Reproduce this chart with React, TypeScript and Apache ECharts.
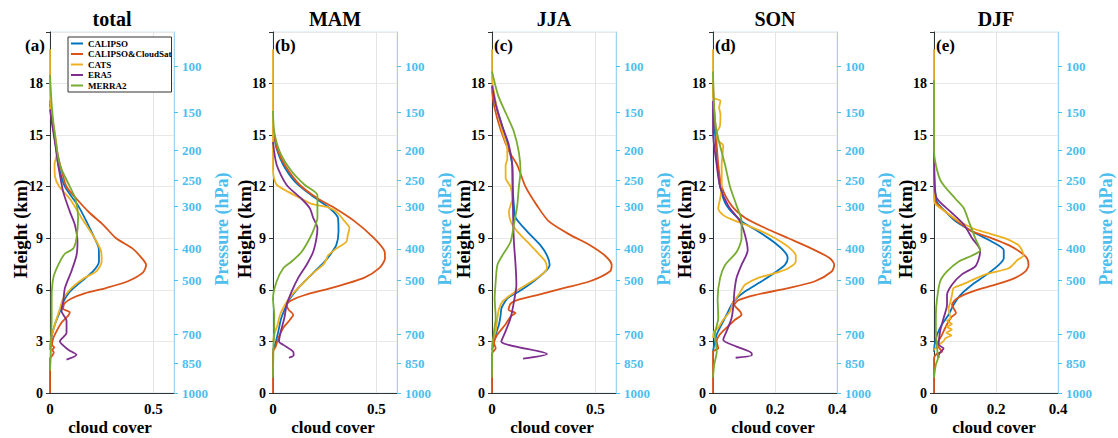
import React, { useEffect, useRef } from "react";
import * as echarts from "echarts";

// ---------- labels & categories ----------
const seriesNames = ["CALIPSO", "CALIPSO&CloudSat", "CATS", "ERA5", "MERRA2"];
const seriesColors = ["#0072BD", "#D95319", "#EDB120", "#7E2F8E", "#77AC30"];
const panelTitles = ["total", "MAM", "JJA", "SON", "DJF"];
const panelTags = ["(a)", "(b)", "(c)", "(d)", "(e)"];
const xMaxes = [0.6, 0.6, 0.6, 0.4, 0.4];
const xIntervals = [0.5, 0.5, 0.5, 0.2, 0.2];
const heightMax = 21;
const heightInterval = 3;
const pressureLevels = [100, 150, 200, 250, 300, 400, 500, 700, 850, 1000];
const pressureHeights = [18.98, 16.33, 14.1, 12.35, 10.84, 8.38, 6.57, 3.43, 1.73, 0];

// ---------- data: [cloud cover, height km] ----------
const totalCALIPSO = [[0, 2.5], [0.005, 3.0], [0.01, 3.4], [0.024, 4.0], [0.048, 4.75], [0.064, 5.3], [0.096, 5.9], [0.152, 6.5], [0.208, 7.07], [0.237, 7.65], [0.236, 8.4], [0.216, 9.0], [0.184, 9.8], [0.136, 10.9], [0.072, 12.0], [0.04, 13.26], [0.032, 14.0], [0.022, 15.0], [0.01, 16.0], [0, 17.0]];
const totalCloudSat = [[0, 0], [0, 2.0], [0.012, 2.2], [0.018, 2.35], [0.012, 2.5], [0.02, 2.65], [0.01, 2.8], [0.016, 3.2], [0.032, 3.6], [0.056, 4.1], [0.088, 4.5], [0.096, 4.7], [0.064, 4.9], [0.069, 5.2], [0.104, 5.5], [0.168, 5.8], [0.27, 6.1], [0.377, 6.5], [0.449, 7.0], [0.465, 7.45], [0.44, 7.9], [0.4, 8.4], [0.32, 9.0], [0.256, 9.8], [0.19, 10.5], [0.128, 11.3], [0.08, 12.0], [0.055, 13.0], [0.035, 14.0], [0.02, 15.0], [0.008, 16.0], [0, 16.8]];
const totalCATS = [[0, 2.5], [0.005, 3.2], [0.024, 4.0], [0.048, 4.9], [0.064, 5.5], [0.104, 6.1], [0.168, 6.7], [0.224, 7.07], [0.25, 7.65], [0.248, 8.2], [0.216, 9.0], [0.152, 10.2], [0.096, 11.3], [0.045, 12.0], [0.024, 12.6], [0.022, 13.3], [0.035, 14.0], [0.025, 15.0], [0.01, 16.0], [0.002, 17.0], [0, 18.0], [0, 20.0]];
const totalERA5 = [[0.08, 1.94], [0.128, 2.23], [0.09, 2.5], [0.065, 2.75], [0.048, 3.0], [0.08, 3.5], [0.08, 4.2], [0.056, 4.75], [0.064, 5.3], [0.072, 6.1], [0.104, 7.1], [0.128, 8.0], [0.133, 8.8], [0.12, 9.8], [0.096, 10.55], [0.064, 11.7], [0.04, 13.26], [0.025, 14.5], [0.012, 15.5], [0, 16.5]];
const totalMERRA2 = [[0, 1.3], [0.003, 2.0], [0.005, 3.0], [0.008, 4.4], [0.008, 5.5], [0.016, 6.7], [0.04, 7.45], [0.072, 8.1], [0.112, 8.4], [0.128, 9.0], [0.136, 10.2], [0.123, 11.3], [0.096, 12.0], [0.048, 13.26], [0.024, 15.0], [0.01, 16.5], [0, 18.5]];

const mamCALIPSO = [[0, 2.5], [0.01, 2.8], [0.026, 3.6], [0.04, 4.36], [0.066, 5.13], [0.082, 5.5], [0.122, 6.1], [0.17, 6.7], [0.218, 7.26], [0.25, 7.65], [0.274, 8.0], [0.306, 8.6], [0.317, 9.4], [0.314, 10.2], [0.274, 10.75], [0.186, 11.5], [0.106, 12.3], [0.05, 13.26], [0.018, 14.2], [0.005, 15.0], [0, 15.5]];
const mamCloudSat = [[0, 0], [0, 2.4], [0.013, 2.7], [0.026, 3.2], [0.05, 3.8], [0.082, 4.26], [0.098, 4.55], [0.075, 4.85], [0.066, 5.13], [0.09, 5.4], [0.154, 5.7], [0.28, 6.1], [0.44, 6.7], [0.514, 7.26], [0.542, 7.84], [0.54, 8.23], [0.49, 9.0], [0.394, 10.0], [0.3, 10.75], [0.218, 11.3], [0.13, 12.1], [0.06, 13.2], [0.02, 14.2], [0.005, 15.0], [0, 15.3]];
const mamCATS = [[0, 3.0], [0.006, 3.4], [0.022, 3.97], [0.034, 4.55], [0.058, 5.13], [0.09, 5.7], [0.138, 6.3], [0.186, 6.9], [0.242, 7.45], [0.258, 7.75], [0.266, 8.0], [0.306, 8.4], [0.355, 8.8], [0.362, 9.2], [0.37, 9.6], [0.346, 10.0], [0.306, 10.55], [0.266, 10.8], [0.186, 11.0], [0.138, 11.3], [0.074, 11.7], [0.019, 12.1], [0.005, 12.5], [0, 13.0], [0, 20.0]];
const mamERA5 = [[0.077, 2.05], [0.1, 2.2], [0.098, 2.4], [0.05, 2.8], [0.029, 3.0], [0.038, 3.6], [0.055, 4.36], [0.066, 5.13], [0.09, 5.9], [0.122, 6.7], [0.162, 7.45], [0.194, 8.2], [0.21, 9.0], [0.215, 9.6], [0.194, 10.2], [0.178, 10.75], [0.138, 11.3], [0.066, 12.1], [0.018, 13.26], [0, 14.6]];
const mamMERRA2 = [[0, 0.9], [0.002, 2.6], [0.006, 3.6], [0.006, 4.55], [0, 5.5], [0.018, 6.5], [0.05, 7.26], [0.09, 7.65], [0.138, 8.2], [0.178, 9.0], [0.2, 9.6], [0.215, 10.2], [0.215, 10.9], [0.215, 11.5], [0.154, 12.1], [0.09, 12.9], [0.034, 14.0], [0.006, 15.2], [0, 16.4]];

const jjaCALIPSO = [[0, 2.5], [0.006, 2.8], [0.018, 3.4], [0.034, 4.0], [0.042, 4.55], [0.045, 4.9], [0.054, 5.13], [0.074, 5.5], [0.13, 5.9], [0.202, 6.5], [0.258, 7.07], [0.279, 7.45], [0.266, 8.0], [0.234, 8.6], [0.17, 9.4], [0.114, 10.2], [0.106, 10.9], [0.1, 12.0], [0.098, 13.26], [0.082, 14.2], [0.058, 15.2], [0.03, 16.3], [0.01, 17.2], [0, 17.8]];
const jjaCloudSat = [[0, 0], [0, 2.3], [0.018, 2.6], [0.01, 2.9], [0.026, 3.4], [0.066, 4.0], [0.09, 4.45], [0.114, 4.65], [0.08, 4.85], [0.09, 5.2], [0.122, 5.4], [0.218, 5.7], [0.346, 6.1], [0.474, 6.5], [0.57, 7.07], [0.579, 7.45], [0.546, 8.0], [0.474, 8.6], [0.378, 9.2], [0.274, 10.0], [0.218, 10.9], [0.162, 12.0], [0.122, 13.26], [0.085, 14.0], [0.045, 15.2], [0.012, 16.6], [0, 17.6]];
const jjaCATS = [[0, 2.6], [0.002, 3.0], [0.018, 3.6], [0.026, 4.36], [0.034, 4.9], [0.05, 5.3], [0.09, 5.7], [0.138, 6.1], [0.194, 6.5], [0.242, 6.9], [0.266, 7.26], [0.258, 7.65], [0.218, 8.2], [0.17, 8.8], [0.122, 9.4], [0.09, 10.0], [0.082, 10.55], [0.098, 11.3], [0.09, 12.0], [0.066, 12.5], [0.066, 13.26], [0.074, 13.6], [0.074, 14.2], [0.05, 15.2], [0.025, 16.5], [0.005, 17.8], [0, 18.4], [0, 20.0]];
const jjaERA5 = [[0.15, 2.0], [0.266, 2.27], [0.045, 3.0], [0.066, 3.6], [0.09, 4.36], [0.106, 5.3], [0.118, 6.3], [0.114, 7.45], [0.106, 8.8], [0.102, 10.35], [0.1, 12.0], [0.098, 13.26], [0.08, 14.5], [0.05, 15.5], [0.02, 16.7], [0, 17.9]];
const jjaMERRA2 = [[0, 0.9], [0.002, 2.6], [0.01, 3.6], [0.018, 4.36], [0.013, 5.5], [0.018, 6.5], [0.026, 7.45], [0.05, 8.0], [0.09, 8.8], [0.106, 9.8], [0.122, 10.9], [0.13, 12.0], [0.138, 12.9], [0.13, 14.0], [0.106, 15.2], [0.07, 16.2], [0.03, 17.3], [0, 18.7]];

const sonCALIPSO = [[0, 2.4], [0.004, 2.8], [0.012, 3.4], [0.028, 4.0], [0.044, 4.55], [0.06, 5.13], [0.076, 5.5], [0.103, 5.9], [0.157, 6.5], [0.205, 7.07], [0.232, 7.45], [0.241, 7.84], [0.232, 8.2], [0.195, 8.8], [0.146, 9.4], [0.092, 10.0], [0.044, 10.9], [0.023, 12.0], [0.015, 13.26], [0.006, 15.2], [0, 16.5]];
const sonCloudSat = [[0, 0], [0, 2.4], [0.017, 2.6], [0.012, 3.0], [0.022, 3.4], [0.044, 3.8], [0.071, 4.26], [0.092, 4.55], [0.087, 4.75], [0.069, 5.13], [0.082, 5.4], [0.135, 5.7], [0.243, 6.1], [0.329, 6.5], [0.383, 7.07], [0.391, 7.45], [0.377, 7.84], [0.318, 8.4], [0.243, 9.0], [0.168, 9.6], [0.103, 10.2], [0.06, 10.9], [0.028, 12.0], [0.017, 13.26], [0.009, 15.2], [0.002, 17.0], [0, 18.3]];
const sonCATS = [[0, 3.2], [0.004, 3.6], [0.017, 3.8], [0.033, 4.26], [0.055, 4.75], [0.065, 5.3], [0.082, 5.7], [0.092, 6.0], [0.103, 6.3], [0.146, 6.7], [0.2, 6.97], [0.243, 7.26], [0.267, 7.65], [0.267, 8.0], [0.243, 8.5], [0.2, 9.0], [0.157, 9.4], [0.103, 9.8], [0.06, 10.1], [0.033, 10.35], [0.017, 10.75], [0.023, 11.3], [0.028, 12.0], [0.028, 13.26], [0.033, 14.4], [0.015, 14.7], [0.013, 15.2], [0.022, 15.5], [0.024, 16.2], [0.02, 16.6], [0.024, 17.0], [0, 17.2], [0, 20.0]];
const sonERA5 = [[0.073, 2.05], [0.125, 2.2], [0.125, 2.3], [0.076, 2.7], [0.033, 3.1], [0.044, 3.6], [0.06, 4.36], [0.066, 5.13], [0.069, 5.9], [0.076, 6.7], [0.092, 7.45], [0.112, 8.3], [0.103, 9.2], [0.087, 10.0], [0.049, 10.9], [0.023, 12.0], [0.012, 13.26], [0, 15.2], [0, 17.0]];
const sonMERRA2 = [[0, 0.9], [0.004, 1.65], [0.012, 2.4], [0.006, 3.4], [0.017, 4.36], [0.015, 5.5], [0.023, 6.7], [0.039, 7.45], [0.076, 8.2], [0.092, 9.0], [0.092, 10.0], [0.076, 10.9], [0.055, 12.0], [0.039, 13.26], [0.012, 15.2], [0.004, 16.5], [0, 18.7]];

const djfCALIPSO = [[0, 2.4], [0.002, 2.8], [0.01, 3.4], [0.026, 4.0], [0.047, 4.55], [0.063, 5.13], [0.085, 5.7], [0.123, 6.3], [0.171, 6.9], [0.209, 7.45], [0.225, 7.84], [0.225, 8.3], [0.187, 8.8], [0.123, 9.4], [0.069, 10.0], [0.037, 10.55], [0.01, 11.1], [0.003, 12.0], [0, 14.0]];
const djfCloudSat = [[0, 0], [0, 2.0], [0.01, 2.3], [0.026, 2.4], [0.01, 2.8], [0.026, 3.4], [0.042, 4.0], [0.058, 4.45], [0.071, 4.65], [0.058, 5.13], [0.074, 5.5], [0.123, 5.9], [0.198, 6.3], [0.262, 6.7], [0.295, 7.07], [0.305, 7.45], [0.3, 7.84], [0.278, 8.2], [0.241, 8.6], [0.187, 9.0], [0.123, 9.4], [0.074, 10.0], [0.037, 10.55], [0.006, 11.1], [0, 12.0], [0, 14.7]];
const djfCATS = [[0, 2.5], [0.015, 2.8], [0.03, 3.0], [0.038, 3.2], [0.056, 3.35], [0.04, 3.5], [0.058, 3.7], [0.04, 3.85], [0.058, 4.0], [0.042, 4.2], [0.053, 4.36], [0.047, 4.9], [0.053, 5.3], [0.058, 5.7], [0.063, 6.1], [0.09, 6.3], [0.166, 6.9], [0.241, 7.26], [0.27, 7.75], [0.289, 8.0], [0.284, 8.3], [0.273, 8.6], [0.23, 9.0], [0.155, 9.4], [0.123, 9.6], [0.08, 10.0], [0.037, 10.55], [0.004, 11.0], [0, 11.3], [0, 20.0]];
const djfERA5 = [[0.015, 2.05], [0.015, 2.2], [0.031, 2.6], [0.015, 2.8], [0.02, 3.6], [0.031, 4.36], [0.042, 5.13], [0.042, 5.7], [0.058, 6.3], [0.09, 6.9], [0.133, 7.36], [0.145, 7.84], [0.149, 8.3], [0.123, 9.0], [0.096, 9.8], [0.053, 10.55], [0.01, 11.3], [0.002, 12.0], [0, 14.7]];
const djfMERRA2 = [[0, 0.9], [0.006, 1.65], [0.013, 2.05], [0.01, 2.6], [0.006, 3.6], [0.006, 4.55], [0.01, 5.5], [0.02, 6.5], [0.042, 7.07], [0.08, 7.65], [0.123, 8.0], [0.149, 8.3], [0.133, 9.0], [0.112, 10.0], [0.096, 10.75], [0.069, 11.3], [0.02, 12.4], [0, 14.1], [0, 18.2]];

const panelData = [
  [totalCALIPSO, totalCloudSat, totalCATS, totalERA5, totalMERRA2],
  [mamCALIPSO, mamCloudSat, mamCATS, mamERA5, mamMERRA2],
  [jjaCALIPSO, jjaCloudSat, jjaCATS, jjaERA5, jjaMERRA2],
  [sonCALIPSO, sonCloudSat, sonCATS, sonERA5, sonMERRA2],
  [djfCALIPSO, djfCloudSat, djfCATS, djfERA5, djfMERRA2],
];

// ---------- layout ----------
const FONT = "Liberation Serif";
const panelLefts = [50, 273, 492, 713, 934];
const panelWidth = 124;
const gridTop = 32;
const gridHeight = 361;
const PRESSURE_COLOR = "#4DBEEE";

function txt(text: string, size: number, fill: string, align = "center") {
  return {
    text,
    fill,
    fontFamily: FONT,
    fontWeight: "bold",
    fontSize: size,
    align,
    verticalAlign: "middle",
  };
}

function buildOption() {
  const grid: any[] = [];
  const xAxis: any[] = [];
  const yAxis: any[] = [];
  const series: any[] = [];
  const graphic: any[] = [];

  panelTitles.forEach((title, i) => {
    const left = panelLefts[i];
    const cx = left + panelWidth / 2;
    grid.push({
      left,
      top: gridTop,
      width: panelWidth,
      height: gridHeight,
      show: true,
      borderColor: "#cfe8f2",
      borderWidth: 1,
      backgroundColor: "transparent",
    });
    xAxis.push({
      type: "value",
      gridIndex: i,
      min: 0,
      max: xMaxes[i],
      interval: xIntervals[i],
      axisLine: { show: true, onZero: false, lineStyle: { color: "#333", width: 1 } },
      axisTick: { show: false },
      axisLabel: {
        color: "#000",
        fontFamily: FONT,
        fontWeight: "bold",
        fontSize: 15,
        margin: 8,
        formatter: (v: number) => (xMaxes[i] === 0.6 && v > 0.55 ? "" : String(v)),
      },
      splitLine: { show: true, lineStyle: { color: "#e4e4e4", width: 1 } },
    });
    yAxis.push({
      type: "value",
      gridIndex: i,
      position: "left",
      min: 0,
      max: heightMax,
      interval: heightInterval,
      axisLine: { show: true, onZero: false, lineStyle: { color: "#333", width: 1 } },
      axisTick: { show: true, length: 4, lineStyle: { color: "#333" } },
      axisLabel: {
        color: "#000",
        fontFamily: FONT,
        fontWeight: "bold",
        fontSize: 14,
        margin: 7,
        formatter: (v: number) => (v >= heightMax ? "" : String(v)),
      },
      splitLine: { show: true, lineStyle: { color: "#e8e8e8", width: 1 } },
    });
    yAxis.push({
      type: "value",
      gridIndex: i,
      position: "right",
      min: 0,
      max: heightMax,
      axisLine: { show: true, onZero: false, lineStyle: { color: "#9dd6ec", width: 1 } },
      axisTick: { show: true, length: 4, customValues: pressureHeights, lineStyle: { color: PRESSURE_COLOR } },
      axisLabel: {
        show: true,
        customValues: pressureHeights,
        color: PRESSURE_COLOR,
        fontFamily: FONT,
        fontWeight: "bold",
        fontSize: 13,
        margin: 8,
        formatter: (v: number) => {
          const k = pressureHeights.findIndex((h) => Math.abs(h - v) < 0.02);
          return k >= 0 ? String(pressureLevels[k]) : "";
        },
      },
      splitLine: { show: false },
    });

    panelData[i].forEach((data, s) => {
      series.push({
        type: "line",
        name: seriesNames[s],
        xAxisIndex: i,
        yAxisIndex: 2 * i,
        data,
        showSymbol: false,
        symbol: "none",
        smooth: 0.25,
        lineStyle: { color: seriesColors[s], width: 1.8 },
        itemStyle: { color: seriesColors[s] },
        z: 3,
      });
    });

    graphic.push({ type: "text", x: cx, y: 19, style: txt(title, 20, "#000") });
    graphic.push({ type: "text", x: i === 0 ? 25 : left + 2, y: 45, style: txt(panelTags[i], 17, "#000", "left") });
    graphic.push({
      type: "text",
      x: i === 0 ? 20 : left - 29,
      y: 229,
      rotation: Math.PI / 2,
      style: txt("Height (km)", 19, "#000"),
    });
    graphic.push({
      type: "text",
      x: left + panelWidth + 48,
      y: 229,
      rotation: Math.PI / 2,
      style: txt("Pressure (hPa)", 18, PRESSURE_COLOR),
    });
    graphic.push({ type: "text", x: cx - 2, y: 427, style: txt("cloud cover", 17, "#000") });
  });

  return {
    animation: false,
    backgroundColor: "#fff",
    textStyle: { fontFamily: FONT },
    grid,
    xAxis,
    yAxis,
    series,
    graphic,
    legend: {
      show: true,
      data: seriesNames,
      orient: "vertical",
      left: 68,
      top: 37,
      icon: "rect",
      itemWidth: 12,
      itemHeight: 2,
      itemGap: 1.5,
      padding: [2, 0, 2, 3],
      borderColor: "#333",
      borderWidth: 1,
      backgroundColor: "#fff",
      selectedMode: false,
      textStyle: { fontFamily: FONT, fontWeight: "bold", fontSize: 9, color: "#000" },
      z: 10,
    },
  };
}

export default function App() {
  const ref = useRef<HTMLDivElement>(null);
  useEffect(() => {
    document.body.style.margin = "0";
    if (!ref.current) return;
    const chart = echarts.init(ref.current, undefined, { renderer: "svg" });
    chart.setOption(buildOption() as any);
    return () => chart.dispose();
  }, []);
  return <div ref={ref} style={{ width: 1118, height: 438 }} />;
}
